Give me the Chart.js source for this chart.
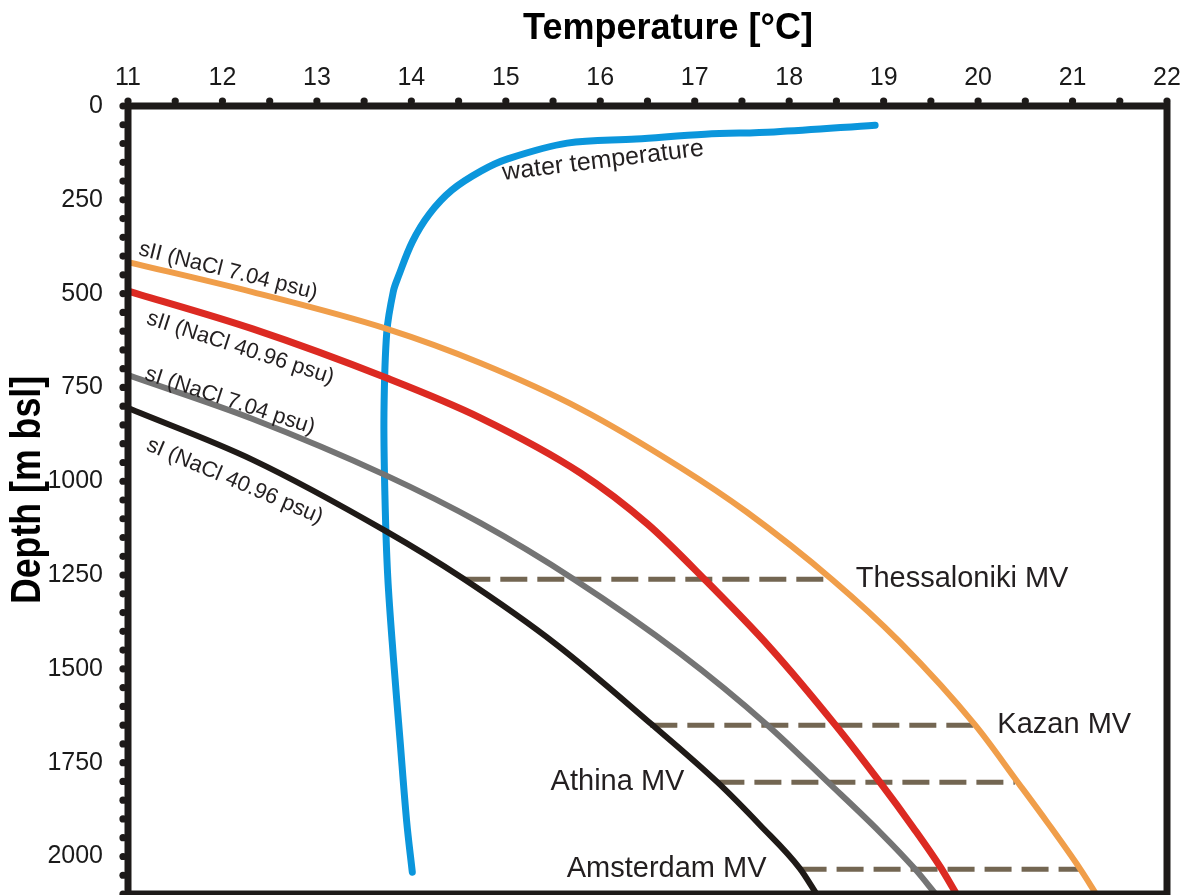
<!DOCTYPE html>
<html>
<head>
<meta charset="utf-8">
<script src="https://cdn.jsdelivr.net/npm/chart.js@4"></script>
<style>
  html, body { margin: 0; padding: 0; background: #fff; overflow: hidden; }
  canvas { display: block; }
</style>
</head>
<body>
<canvas id="chart" width="1193" height="895"></canvas>
<script>
// hydrate stability curves (temperature °C vs depth m bsl)
const sII7Temp   = [11.0, 12.32, 13.74, 14.73, 15.79, 16.84, 17.55, 18.46, 19.17, 19.97, 20.42, 20.73, 21.08, 21.25];
const sII7Depth  = [416, 496, 594, 685, 807, 962, 1082, 1263, 1428, 1650, 1802, 1908, 2033, 2100];
const sII41Temp  = [11.0, 12.32, 13.74, 14.73, 15.79, 16.50, 17.11, 17.80, 18.49, 18.96, 19.31, 19.60, 19.77];
const sII41Depth = [493, 594, 725, 831, 978, 1114, 1263, 1444, 1650, 1802, 1922, 2028, 2100];
const sI7Temp    = [11.0, 12.32, 13.72, 14.73, 15.72, 16.84, 17.77, 18.41, 18.96, 19.33, 19.55];
const sI7Depth   = [717, 834, 983, 1111, 1261, 1458, 1650, 1802, 1935, 2033, 2100];
const sI41Temp   = [11.0, 12.32, 13.73, 14.54, 15.54, 16.54, 17.24, 17.69, 18.11, 18.29];
const sI41Depth  = [805, 943, 1133, 1258, 1436, 1647, 1802, 1916, 2031, 2100];

// measured water temperature profile
const waterTemp  = [18.91, 17.84, 17.11, 16.38, 15.65, 15.02, 14.74, 14.43, 14.19, 14.01, 13.86, 13.81, 13.74, 13.71, 13.72, 13.75, 13.81, 13.88, 13.95, 14.01];
const waterDepth = [51, 69, 75, 88, 99, 141, 173, 224, 288, 362, 456, 493, 602, 818, 1037, 1255, 1471, 1690, 1906, 2042];

// mud volcanoes: depth and the temperature span of the dashed line
const mvNames    = ["Thessaloniki MV", "Kazan MV", "Athina MV", "Amsterdam MV"];
const mvDepth    = [1261, 1650, 1802, 2034];
const mvTempFrom = [14.55, 16.53, 17.24, 18.11];
const mvTempTo   = [18.45, 19.95, 20.39, 21.08];

const FONT = '"Liberation Sans", Arial, sans-serif';
const INK = "#231f20";

function pts(xs, ys) {
  return xs.map((v, i) => ({ x: v, y: ys[i] }));
}

function curve(temps, depths, color, width) {
  return {
    data: pts(temps, depths),
    showLine: true,
    borderColor: color,
    borderWidth: width,
    pointRadius: 0,
    cubicInterpolationMode: "monotone",
    fill: false
  };
}

const datasets = [
  curve(sII7Temp, sII7Depth, "#f09e4a", 6),
  curve(sII41Temp, sII41Depth, "#dc2a22", 7),
  curve(sI7Temp, sI7Depth, "#747474", 6),
  curve(sI41Temp, sI41Depth, "#1f1a17", 6)
];

mvNames.forEach((name, i) => {
  datasets.push({
    data: pts([mvTempFrom[i], mvTempTo[i]], [mvDepth[i], mvDepth[i]]),
    showLine: true,
    borderColor: "#736652",
    borderWidth: 5,
    borderDash: [27, 10],
    pointRadius: 0
  });
});

datasets.push({
  data: pts(waterTemp, waterDepth),
  showLine: true,
  borderColor: "#0b96dc",
  borderWidth: 7,
  borderCapStyle: "round",
  borderJoinStyle: "round",
  pointRadius: 0,
  tension: 0.35
});

// labels along curves: anchor in data units, rotation in degrees
const curveLabels = [
  { text: "sII (NaCl 7.04 psu)",  t: 12.06, d: 440, rot: 14, size: 22 },
  { text: "sII (NaCl 40.96 psu)", t: 12.19, d: 645, rot: 18, size: 22 },
  { text: "sI (NaCl 7.04 psu)",   t: 12.08, d: 786, rot: 18, size: 22 },
  { text: "sI (NaCl 40.96 psu)",  t: 12.13, d: 1000, rot: 23, size: 22 },
  { text: "water temperature",    t: 16.03, d: 146, rot: -7, size: 25 }
];

const overlay = {
  id: "overlay",
  afterDraw(chart) {
    const { ctx, chartArea: a, scales: { x, y } } = chart;
    ctx.save();

    // frame
    ctx.strokeStyle = "#1d1a19";
    ctx.lineWidth = 7;
    ctx.strokeRect(a.left, a.top, a.right - a.left, a.bottom - a.top);

    // dotted tick marks
    ctx.fillStyle = "#1d1a19";
    const dot = (px, py) => { ctx.beginPath(); ctx.arc(px, py, 3.6, 0, Math.PI * 2); ctx.fill(); };
    x.ticks.forEach(t => dot(x.getPixelForValue(t.value), a.top - 5));
    y.ticks.forEach(t => { if (t.value % 50 === 0) dot(a.left - 5, y.getPixelForValue(t.value)); });

    // axis titles
    ctx.fillStyle = "#000";
    ctx.textAlign = "center";
    ctx.textBaseline = "middle";
    ctx.font = "bold 36px " + FONT;
    ctx.fillText("Temperature [°C]", 668, 29);

    ctx.save();
    ctx.translate(28, 490);
    ctx.rotate(-Math.PI / 2);
    ctx.scale(0.85, 1);
    ctx.font = "bold 42px " + FONT;
    ctx.fillText("Depth [m bsl]", 0, 0);
    ctx.restore();

    // curve labels
    ctx.fillStyle = INK;
    curveLabels.forEach(l => {
      ctx.save();
      ctx.translate(x.getPixelForValue(l.t), y.getPixelForValue(l.d));
      ctx.rotate(l.rot * Math.PI / 180);
      ctx.font = l.size + "px " + FONT;
      ctx.fillText(l.text, 0, 0);
      ctx.restore();
    });

    // mud volcano labels
    ctx.font = "29px " + FONT;
    mvNames.forEach((name, i) => {
      const py = y.getPixelForValue(mvDepth[i]);
      if (i < 2) {
        ctx.textAlign = "left";
        ctx.fillText(name, x.getPixelForValue(mvTempTo[i]) + 24, py);
      } else {
        ctx.textAlign = "right";
        ctx.fillText(name, x.getPixelForValue(mvTempFrom[i]) - 33, py);
      }
    });

    ctx.restore();
  }
};

new Chart(document.getElementById("chart"), {
  type: "scatter",
  data: { datasets },
  plugins: [overlay],
  options: {
    responsive: false,
    animation: false,
    layout: { padding: { left: 0, top: 0, right: 26, bottom: 1 } },
    plugins: { legend: { display: false }, tooltip: { enabled: false } },
    scales: {
      x: {
        type: "linear",
        position: "top",
        min: 11,
        max: 22,
        grid: { display: false },
        border: { display: false },
        ticks: {
          stepSize: 0.5,
          autoSkip: false,
          maxRotation: 0,
          padding: 5,
          color: "#1a1a1a",
          font: { family: FONT, size: 25 },
          callback: v => Number.isInteger(v) ? v : ""
        },
        afterFit: s => { s.height = 106; s.paddingLeft = 0; s.paddingRight = 0; }
      },
      y: {
        type: "linear",
        reverse: true,
        min: 0,
        max: 2100,
        grid: { display: false },
        border: { display: false },
        ticks: {
          stepSize: 50,
          autoSkip: false,
          includeBounds: false,
          padding: 17,
          color: "#1a1a1a",
          font: { family: FONT, size: 25 },
          callback: v => v % 250 === 0 ? v : ""
        },
        afterFit: s => { s.width = 128; s.paddingTop = 0; s.paddingBottom = 0; }
      }
    }
  }
});
</script>
</body>
</html>
